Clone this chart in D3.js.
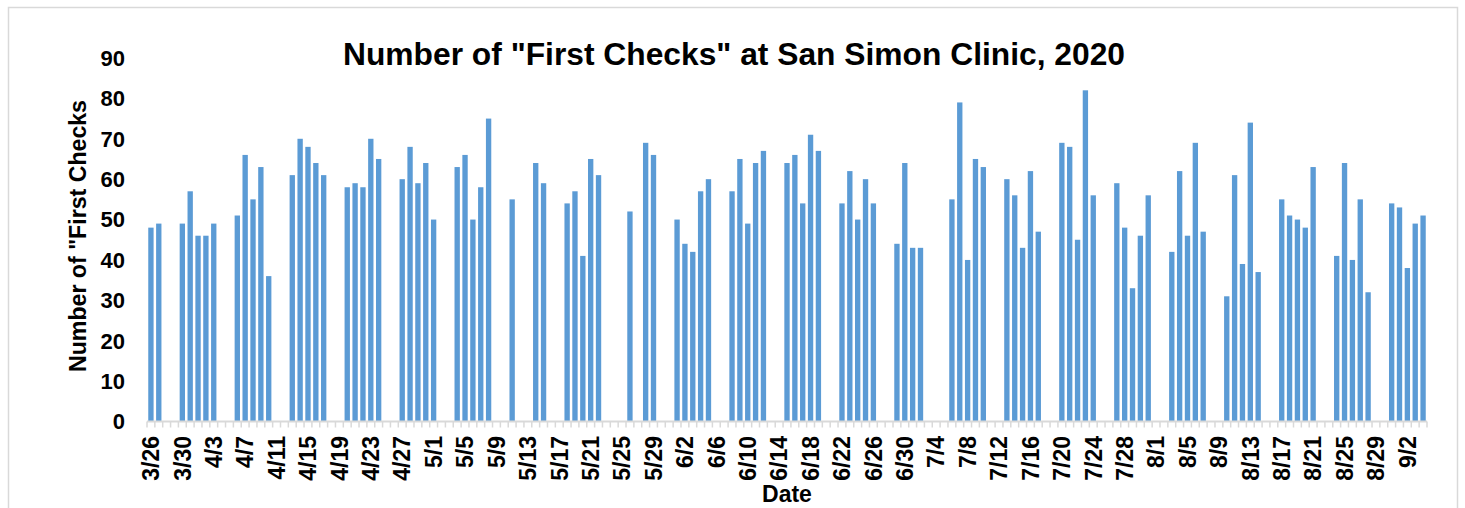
<!DOCTYPE html>
<html>
<head>
<meta charset="utf-8">
<script src="https://cdn.jsdelivr.net/npm/d3@7/dist/d3.min.js"></script>
<style>
  body { margin: 0; background: #fff; }
  text { font-family: "Liberation Sans", Arial, sans-serif; font-weight: bold; fill: #000; }
</style>
</head>
<body>
<script>
// Daily categories, 3/26/2020 through 9/4/2020 (weekends and holidays have no bar)
let firstDay = new Date(2020, 2, 26);
let lastDay = new Date(2020, 8, 4);

// "First checks" per day, null where the clinic had none recorded
let counts = [
  48, 49, null, null,
  49, 57, 46, 46, 49, null, null,   // 3/30
  51, 66, 55, 63, 36, null, null,   // 4/6
  61, 70, 68, 64, 61, null, null,   // 4/13
  58, 59, 58, 70, 65, null, null,   // 4/20
  60, 68, 59, 64, 50, null, null,   // 4/27
  63, 66, 50, 58, 75, null, null,   // 5/4
  55, null, null, 64, 59, null, null, // 5/11
  54, 57, 41, 65, 61, null, null,   // 5/18
  null, 52, null, 69, 66, null, null, // 5/25
  50, 44, 42, 57, 60, null, null,   // 6/1
  57, 65, 49, 64, 67, null, null,   // 6/8
  64, 66, 54, 71, 67, null, null,   // 6/15
  54, 62, 50, 60, 54, null, null,   // 6/22
  44, 64, 43, 43, null, null, null, // 6/29
  55, 79, 40, 65, 63, null, null,   // 7/6
  60, 56, 43, 62, 47, null, null,   // 7/13
  69, 68, 45, 82, 56, null, null,   // 7/20
  59, 48, 33, 46, 56, null, null,   // 7/27
  42, 62, 46, 69, 47, null, null,   // 8/3
  31, 61, 39, 74, 37, null, null,   // 8/10
  55, 51, 50, 48, 63, null, null,   // 8/17
  41, 64, 40, 55, 32, null, null,   // 8/24
  54, 53, 38, 49, 51                // 8/31
];

let yTicks = [0, 10, 20, 30, 40, 50, 60, 70, 80, 90];
let labelEvery = 4; // every 4th date gets a label

let titleText = 'Number of "First Checks" at San Simon Clinic, 2020';
let yTitle = 'Number of "First Checks';
let xTitle = 'Date';

let width = 1465, height = 508;
let fmt = d3.timeFormat('%-m/%-d');
let dates = d3.timeDay.range(firstDay, d3.timeDay.offset(lastDay, 1)).map(fmt);
let data = dates.map((d, i) => ({ date: d, value: counts[i] }));

let svg = d3.select('body').append('svg')
  .attr('width', width)
  .attr('height', height);

// chart frame
svg.append('rect')
  .attr('x', 8.5).attr('y', 7.5)
  .attr('width', 1449).attr('height', 520)
  .attr('fill', 'none')
  .attr('stroke', '#d9d9d9')
  .attr('stroke-width', 1.5);

let x = d3.scaleBand()
  .domain(dates)
  .range([147, 1427])
  .paddingInner(0.32)
  .paddingOuter(0.16);

let y = d3.scaleLinear()
  .domain([0, 90])
  .range([421.5, 58]);

// bars
svg.append('g').selectAll('rect')
  .data(data.filter(d => d.value != null))
  .join('rect')
  .attr('x', d => x(d.date))
  .attr('y', d => y(d.value))
  .attr('width', x.bandwidth())
  .attr('height', d => y(0) - y(d.value))
  .attr('fill', '#5b9bd5');

// x axis line + ticks between categories
let boundaries = d3.range(dates.length + 1).map(i => 147 + i * (1280 / dates.length));
svg.append('line')
  .attr('x1', 147).attr('x2', 1427)
  .attr('y1', y(0)).attr('y2', y(0))
  .attr('stroke', '#d9d9d9').attr('stroke-width', 2);
svg.append('g').selectAll('line')
  .data(boundaries)
  .join('line')
  .attr('x1', d => d).attr('x2', d => d)
  .attr('y1', y(0)).attr('y2', y(0) + 6)
  .attr('stroke', '#d9d9d9').attr('stroke-width', 1.5);

// x tick labels (rotated)
svg.append('g').selectAll('text')
  .data(dates.filter((d, i) => i % labelEvery === 0))
  .join('text')
  .attr('transform', d => `translate(${x(d) + x.bandwidth() / 2},436) rotate(-90)`)
  .attr('text-anchor', 'end')
  .attr('dy', '0.36em')
  .style('font-size', '23px')
  .text(d => d);

// y tick labels
svg.append('g').selectAll('text')
  .data(yTicks)
  .join('text')
  .attr('x', 125)
  .attr('y', d => y(d))
  .attr('dy', '0.36em')
  .attr('text-anchor', 'end')
  .style('font-size', '22px')
  .text(d => d);

// titles
svg.append('text')
  .attr('x', 734).attr('y', 65)
  .attr('text-anchor', 'middle')
  .attr('textLength', 782)
  .attr('lengthAdjust', 'spacingAndGlyphs')
  .style('font-size', '31px')
  .text(titleText);

svg.append('text')
  .attr('transform', 'translate(86,236) rotate(-90)')
  .attr('text-anchor', 'middle')
  .attr('textLength', 272)
  .attr('lengthAdjust', 'spacingAndGlyphs')
  .style('font-size', '23px')
  .text(yTitle);

svg.append('text')
  .attr('x', 787).attr('y', 502)
  .attr('text-anchor', 'middle')
  .style('font-size', '23px')
  .text(xTitle);
</script>
</body>
</html>
